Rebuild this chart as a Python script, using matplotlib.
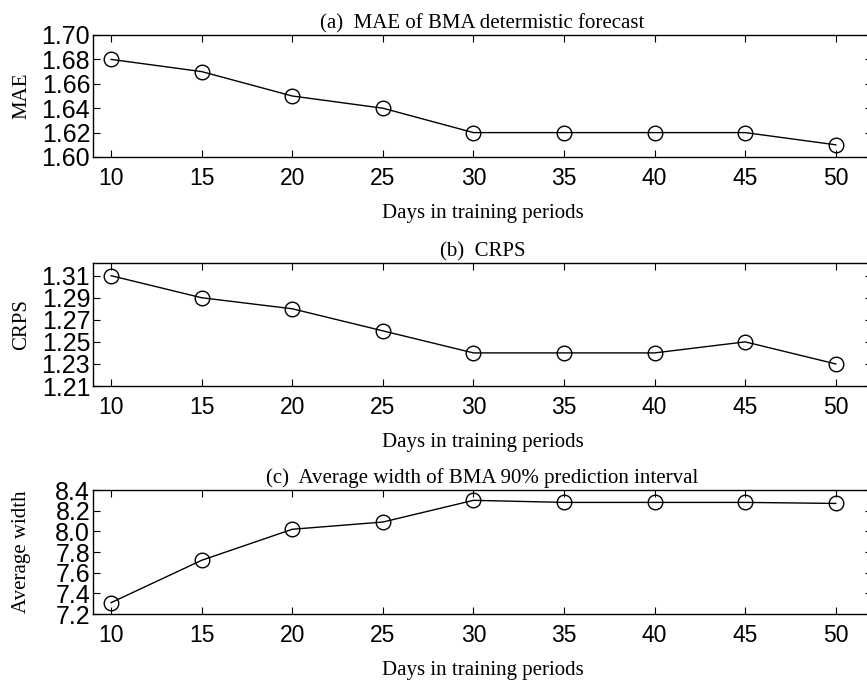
import matplotlib
matplotlib.use("Agg")
import matplotlib.pyplot as plt

days = [10, 15, 20, 25, 30, 35, 40, 45, 50]
mae = [1.68, 1.67, 1.65, 1.64, 1.62, 1.62, 1.62, 1.62, 1.61]
crps = [1.31, 1.29, 1.28, 1.26, 1.24, 1.24, 1.24, 1.25, 1.23]
avg_width = [7.31, 7.72, 8.02, 8.09, 8.30, 8.28, 8.28, 8.28, 8.27]

titles = ["(a)  MAE of BMA determistic forecast",
          "(b)  CRPS",
          "(c)  Average width of BMA 90% prediction interval"]
ylabels = ["MAE", "CRPS", "Average width"]
yticks_list = [[1.60, 1.62, 1.64, 1.66, 1.68, 1.70],
               [1.21, 1.23, 1.25, 1.27, 1.29, 1.31],
               [7.2, 7.4, 7.6, 7.8, 8.0, 8.2, 8.4]]
ylims = [(1.60, 1.70), (1.21, 1.3215), (7.2, 8.4)]
yfmt = ["%.2f", "%.2f", "%.1f"]
series = [mae, crps, avg_width]

W, H = 867, 680
fig = plt.figure(figsize=(W / 100, H / 100), dpi=100)

# axes boxes in pixels: (top, bottom)
boxes = [(35, 157), (263, 386), (490, 614)]
left_px, right_px = 93, 872

serif = "Liberation Serif"
sans = "Liberation Sans"

for i, (top, bottom) in enumerate(boxes):
    ax = fig.add_axes([left_px / W, 1 - bottom / H,
                       (right_px - left_px) / W, (bottom - top) / H])
    ax.plot(days, series[i], color="black", lw=1.0, marker="o",
            markersize=10.5, markerfacecolor="none", markeredgecolor="black",
            markeredgewidth=1.0)
    ax.set_xlim(9, 52)
    ax.set_ylim(*ylims[i])
    ax.set_xticks(days)
    ax.set_xticklabels([str(d) for d in days], fontfamily=sans, fontsize=16.5)
    ax.set_yticks(yticks_list[i])
    ax.set_yticklabels([yfmt[i] % v for v in yticks_list[i]],
                       fontfamily=sans, fontsize=18)
    ax.tick_params(direction="in", top=True, right=True, length=5,
                   width=0.8, pad=2)
    ax.tick_params(axis="x", pad=7)
    for sp in ax.spines.values():
        sp.set_linewidth(1.0)
    ax.set_title(titles[i], fontfamily=serif, fontsize=15, pad=5)
    ax.set_xlabel("Days in training periods", fontfamily=serif,
                  fontsize=15, labelpad=10)
    ax.set_ylabel(ylabels[i], fontfamily=serif, fontsize=15)
    ax.yaxis.set_label_coords(-0.079, 0.5)

fig.savefig("out.png", dpi=100, facecolor="white")
